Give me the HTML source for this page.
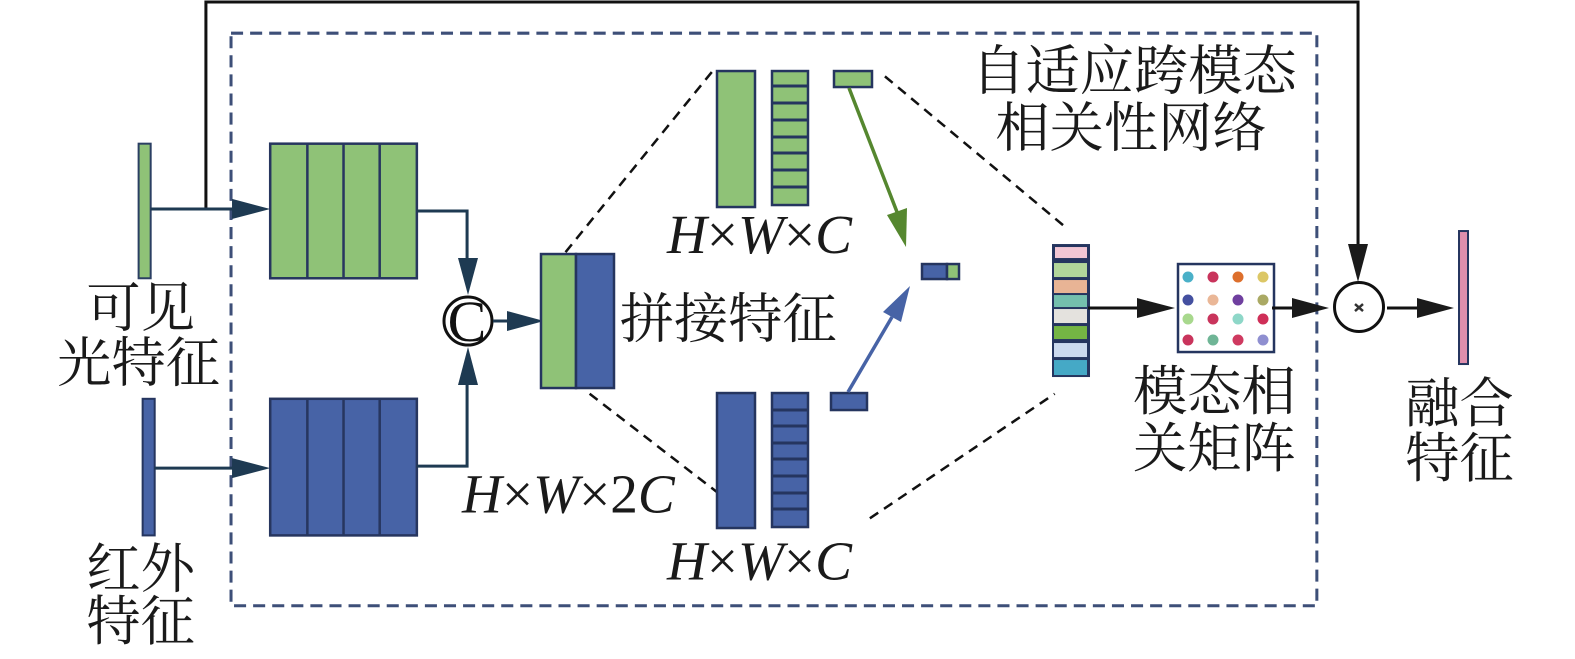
<!DOCTYPE html>
<html><head><meta charset="utf-8"><style>
html,body{margin:0;padding:0;background:#fff;width:1575px;height:659px;overflow:hidden}
svg{display:block}
.t{font-family:"Liberation Serif","Noto Serif CJK SC",serif;font-size:54px;fill:#1a1a1a}
.i{font-family:"Liberation Serif",serif;font-size:55px;fill:#1a1a1a;font-style:italic}
.n{font-style:normal}
</style></head><body>
<svg width="1575" height="659" viewBox="0 0 1568 656" xmlns="http://www.w3.org/2000/svg">
<rect x="230" y="33" width="1081" height="570" fill="none" stroke="#3d4f78" stroke-width="3" stroke-dasharray="12 7"/>
<path d="M205 208V2H1352V250" fill="none" stroke="#111" stroke-width="3"/>
<rect x="138" y="143" width="12" height="134" fill="#8fc277" stroke="#2b3f63" stroke-width="2"/>
<rect x="142" y="397" width="12" height="136" fill="#4763a6" stroke="#25355f" stroke-width="2"/>
<path d="M150 208H240" stroke="#1e3a52" stroke-width="3"/>
<polygon points="231,198 231,218 269,208" fill="#1e3a52"/>
<path d="M154 466H240" stroke="#1e3a52" stroke-width="3"/>
<polygon points="231,456 231,476 269,466" fill="#1e3a52"/>
<g stroke="#27365f" stroke-width="2.5">
<rect x="269" y="143" width="146" height="134" fill="#8fc277"/>
<path d="M306 143V277M342 143V277M378 143V277" fill="none"/>
<rect x="269" y="397" width="146" height="136" fill="#4763a6"/>
<path d="M306 397V533M342 397V533M378 397V533" fill="none"/>
</g>
<path d="M415 210H465V260M415 464H465V380" fill="none" stroke="#1e3a52" stroke-width="3"/>
<g stroke="#111" stroke-width="2.5" stroke-dasharray="10 7" fill="none">
<path d="M563 251L710 70"/>
<path d="M587 392L714 490"/>
<path d="M881 76L1063 228"/>
<path d="M866 516L1050 392"/>
</g>
<g transform="scale(0.99556)">
<polygon points="458,258 478,258 468,295" fill="#1e3a52"/>
<polygon points="458,385 478,385 468,347" fill="#1e3a52"/>
<circle cx="468" cy="321" r="24" fill="#fff" stroke="#111" stroke-width="3"/>
<text x="467" y="341" text-anchor="middle" font-family="Liberation Serif,serif" font-size="58" fill="#111">C</text>
<path d="M493 321H510" stroke="#1e3a52" stroke-width="3"/>
<polygon points="507,311 507,331 544,321" fill="#1e3a52"/>
<rect x="541" y="254" width="35" height="134" fill="#8fc277" stroke="#25355f" stroke-width="2.5"/>
<rect x="576" y="254" width="38" height="134" fill="#4763a6" stroke="#25355f" stroke-width="2.5"/>
<g stroke="#25355f" stroke-width="2.5" fill="#8fc277">
<rect x="717" y="71" width="38" height="136"/>
<rect x="772" y="71" width="36" height="134"/>
<rect x="834" y="71" width="38" height="16"/>
</g>
<path d="M771 86H808M771 103H808M771 120H808M771 137H808M771 153H808M771 170H808M771 187H808" stroke="#25355f" stroke-width="3"/>
<g stroke="#25355f" stroke-width="2.5" fill="#4763a6">
<rect x="717" y="393" width="38" height="135"/>
<rect x="772" y="393" width="36" height="134"/>
<rect x="831" y="393" width="36" height="17"/>
</g>
<path d="M771 410H808M771 426H808M771 443H808M771 459H808M771 476H808M771 493H808M771 509H808" stroke="#25355f" stroke-width="3"/>
<path d="M849 88L897 212" stroke="#55872f" stroke-width="3.5"/>
<polygon points="887,215 907,208 906,247" fill="#55872f"/>
<path d="M848 392L892 317" stroke="#4763a6" stroke-width="3.5"/>
<polygon points="883,312 901,322 910,286" fill="#4763a6"/>
<rect x="922" y="264" width="25" height="15" fill="#4763a6" stroke="#25355f" stroke-width="2.5"/>
<rect x="947" y="264" width="12" height="15" fill="#8fc277" stroke="#25355f" stroke-width="2.5"/>
<rect x="1052" y="244" width="38" height="133" fill="#25355f"/>
<rect x="1055" y="247" width="32" height="11" fill="#f2c6d4"/>
<rect x="1054" y="263" width="33" height="14" fill="#b2d69a"/>
<rect x="1054" y="280" width="33" height="13" fill="#e8b495"/>
<rect x="1054" y="295" width="33" height="12" fill="#74bfad"/>
<rect x="1054" y="309" width="33" height="14" fill="#e4e2de"/>
<rect x="1054" y="326" width="33" height="13" fill="#74b544"/>
<rect x="1054" y="343" width="33" height="14" fill="#cbd9ee"/>
<rect x="1054" y="360" width="33" height="15" fill="#45a9c6"/>
<path d="M1088 308H1140" stroke="#111" stroke-width="3"/>
<polygon points="1137,298 1137,318 1175,308" fill="#1a1a1a"/>
<rect x="1178" y="264" width="96" height="88" fill="#fff" stroke="#25355f" stroke-width="2.5"/>
<circle cx="1188" cy="277" r="5.5" fill="#4ab0c8"/><circle cx="1213" cy="277" r="5.5" fill="#c9345c"/><circle cx="1238" cy="277" r="5.5" fill="#dd6f2c"/><circle cx="1263" cy="277" r="5.5" fill="#dcc766"/>
<circle cx="1188" cy="300" r="5.5" fill="#4450a0"/><circle cx="1213" cy="300" r="5.5" fill="#eab797"/><circle cx="1238" cy="300" r="5.5" fill="#6f3f9f"/><circle cx="1263" cy="300" r="5.5" fill="#aaa964"/>
<circle cx="1188" cy="319" r="5.5" fill="#a8d88d"/><circle cx="1213" cy="319" r="5.5" fill="#c9345c"/><circle cx="1238" cy="319" r="5.5" fill="#8ed7c8"/><circle cx="1263" cy="319" r="5.5" fill="#cf2f58"/>
<circle cx="1188" cy="340" r="5.5" fill="#c9345c"/><circle cx="1213" cy="340" r="5.5" fill="#6fb596"/><circle cx="1238" cy="340" r="5.5" fill="#cf3a60"/><circle cx="1263" cy="340" r="5.5" fill="#8f8fd0"/>
<path d="M1272 308H1295" stroke="#111" stroke-width="3"/>
<polygon points="1292,298 1292,318 1329,308" fill="#1a1a1a"/>
<polygon points="1348,244 1368,244 1358,282" fill="#1a1a1a"/>
<circle cx="1359" cy="307" r="24.5" fill="#fff" stroke="#111" stroke-width="3"/>
<path d="M1355 304L1363 311M1363 304L1355 311" stroke="#333" stroke-width="2.5"/>
<path d="M1387 308H1420" stroke="#111" stroke-width="3"/>
<polygon points="1417,298 1417,318 1454,308" fill="#1a1a1a"/>
<rect x="1459" y="231" width="9" height="133" fill="#e08fad" stroke="#25355f" stroke-width="2"/>
</g>
<text class="t" x="86" y="325">可见</text>
<text class="t" x="57" y="380">光特征</text>
<text class="t" x="86" y="585">红外</text>
<text class="t" x="86" y="637">特征</text>
<text class="t" x="617" y="336">拼接特征</text>
<text class="t" x="967" y="89">自适应跨模态</text>
<text class="t" x="991" y="146">相关性网络</text>
<text class="t" x="1128" y="408">模态相</text>
<text class="t" x="1128" y="465">关矩阵</text>
<text class="t" x="1399" y="420">融合</text>
<text class="t" x="1399" y="475">特征</text>
<text class="i" x="664" y="252">H<tspan class="n">×</tspan>W<tspan class="n">×</tspan>C</text>
<text class="i" x="664" y="577">H<tspan class="n">×</tspan>W<tspan class="n">×</tspan>C</text>
<text class="i" x="460" y="510">H<tspan class="n">×</tspan>W<tspan class="n">×2</tspan>C</text>
</svg>
</body></html>
